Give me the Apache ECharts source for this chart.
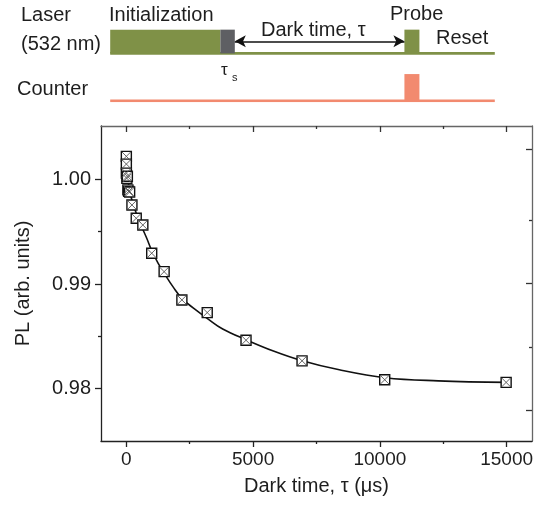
<!DOCTYPE html>
<html><head><meta charset="utf-8">
<script src="https://cdn.jsdelivr.net/npm/echarts@6/dist/echarts.min.js"></script>
<style>html,body{margin:0;padding:0;background:#fff}#c{width:540px;height:516px}</style>
</head><body><div id="c"></div>
<script>
// ---- measured data (Dark time in µs, PL in arb. units)
const darkTime = [0, 0, 0, 20, 40, 60, 90, 130, 220, 390, 650, 1000, 1490, 2190, 3190, 4720, 6930, 10190, 14980];
const plValues = [1.0022, 1.00146, 1.0006, 1.0001, 1.0003, 0.9990, 0.99885, 0.9988, 0.99755, 0.99628, 0.99564, 0.99294, 0.99118, 0.98848, 0.98727, 0.98463, 0.98266, 0.98085, 0.98060];
// fitted curve
const fitTime = [0, 100, 200, 400, 600, 800, 1000, 1250, 1500, 1850, 2200, 2700, 3200, 3800, 4700, 5800, 6900, 8400, 10200, 12300, 15000];
const fitPL   = [1.0004, 0.9994, 0.9982, 0.9967, 0.9955, 0.9944, 0.9932, 0.9920, 0.9910, 0.9897, 0.9886, 0.9876, 0.9867, 0.9857, 0.9847, 0.9836, 0.9827, 0.9818, 0.98105, 0.98075, 0.98060];
// ticks
const xMajorTicks = [0, 5000, 10000, 15000];
const xMinorTicks = [2500, 7500, 12500];
const yMajorTicks = [0.98, 0.99, 1.00];
const yMinorTicks = [0.985, 0.995];
const yRightMajorTicks = [0.97797, 0.99004, 1.00289];
const yRightMinorTicks = [0.98397, 0.99605];
// pulse-sequence schematic (time in arbitrary units 0..100, levels)
const laserBlockStart = [0, 28.65, 76.5];
const laserBlockEnd   = [28.65, 32.4, 80.4];
const laserBlockNames = ['Initialization', 'τs', 'Probe'];
const laserBase = 2, laserHigh = 3.0;
const counterStart = [76.5], counterEnd = [80.4];
const counterBase = 0, counterHigh = 1.13;
const seqEnd = 100;
const darkStart = 32.4, darkEnd = 76.5, darkLevel = 2.51;

const FONT = 'Liberation Sans, Arial, Helvetica, sans-serif';
const GREEN = '#7f9147', GRAY = '#5e5f63', CORAL = '#f28a6f', TXT = '#1e1e1e';

const chart = echarts.init(document.getElementById('c'), null, {renderer: 'canvas'});
const mainRect = {left: 101, top: 126, width: 431, height: 315, outerBoundsMode: 'none', containLabel: false};

const blockColor = {'Initialization': GREEN, 'τs': GRAY, 'Probe': GREEN};
const laserRects = laserBlockStart.map((s, i) => [s, laserBlockEnd[i], laserBase, laserHigh, laserBlockNames[i]]);
const counterRects = counterStart.map((s, i) => [s, counterEnd[i], counterBase, counterHigh, 'Counter']);

function rectRender(params, api) {
  const p0 = api.coord([api.value(0), api.value(3)]);
  const p1 = api.coord([api.value(1), api.value(2)]);
  return {type: 'rect', shape: {x: p0[0], y: p0[1], width: p1[0] - p0[0], height: p1[1] - p0[1]},
          style: {fill: api.visual('color')}};
}

const xBase = {type: 'value', min: -1000, max: 16000, gridIndex: 0, splitLine: {show: false}};
const yBase = {type: 'value', min: 0.975, max: 1.0051, gridIndex: 0, splitLine: {show: false}};
const T = 20;

const option = {
  animation: false,
  backgroundColor: '#fff',
  grid: [mainRect, Object.assign({}, mainRect),
         {left: 110.2, width: 384.6, top: 5.9, height: 95, outerBoundsMode: 'none', containLabel: false}],
  xAxis: [
    Object.assign({}, xBase, {position: 'bottom',
      axisLine: {show: true, onZero: false, lineStyle: {color: '#222', width: 1.3}},
      axisTick: {show: true, inside: false, length: 6, customValues: xMajorTicks, lineStyle: {color: '#222', width: 1.3}},
      axisLabel: {show: true, customValues: xMajorTicks, margin: 9, fontSize: 19, color: TXT, fontFamily: FONT,
                  formatter: v => String(v)},
      name: 'Dark time, τ (μs)', nameLocation: 'middle', nameGap: 35,
      nameTextStyle: {fontSize: T, color: TXT, fontFamily: FONT}}),
    Object.assign({}, xBase, {position: 'top',
      axisLine: {show: true, onZero: false, lineStyle: {color: '#666', width: 1.3}},
      axisTick: {show: true, inside: true, length: 6, customValues: xMajorTicks, lineStyle: {color: '#333', width: 1.3}},
      axisLabel: {show: false}}),
    Object.assign({}, xBase, {gridIndex: 1, position: 'bottom',
      axisLine: {show: false, onZero: false},
      axisTick: {show: true, inside: false, length: 3, customValues: xMinorTicks, lineStyle: {color: '#222', width: 1.3}},
      axisLabel: {show: false}}),
    Object.assign({}, xBase, {gridIndex: 1, position: 'top',
      axisLine: {show: false, onZero: false},
      axisTick: {show: true, inside: true, length: 3, customValues: xMinorTicks, lineStyle: {color: '#333', width: 1.3}},
      axisLabel: {show: false}}),
    {type: 'value', gridIndex: 2, min: 0, max: seqEnd, show: false}
  ],
  yAxis: [
    Object.assign({}, yBase, {position: 'left',
      axisLine: {show: true, onZero: false, lineStyle: {color: '#222', width: 1.3}},
      axisTick: {show: true, inside: false, length: 6, customValues: yMajorTicks, lineStyle: {color: '#222', width: 1.3}},
      axisLabel: {show: true, customValues: yMajorTicks, margin: 10, fontSize: 20, color: TXT, fontFamily: FONT,
                  formatter: v => v.toFixed(2)},
      name: 'PL (arb. units)', nameLocation: 'middle', nameGap: 68, nameRotate: 90,
      nameTextStyle: {fontSize: T, color: TXT, fontFamily: FONT}}),
    Object.assign({}, yBase, {position: 'right',
      axisLine: {show: true, onZero: false, lineStyle: {color: '#666', width: 1.3}},
      axisTick: {show: true, inside: true, length: 6, customValues: yRightMajorTicks, lineStyle: {color: '#333', width: 1.3}},
      axisLabel: {show: false}}),
    Object.assign({}, yBase, {gridIndex: 1, position: 'left',
      axisLine: {show: false, onZero: false},
      axisTick: {show: true, inside: false, length: 3, customValues: yMinorTicks, lineStyle: {color: '#222', width: 1.3}},
      axisLabel: {show: false}}),
    Object.assign({}, yBase, {gridIndex: 1, position: 'right',
      axisLine: {show: false, onZero: false},
      axisTick: {show: true, inside: true, length: 3, customValues: yRightMinorTicks, lineStyle: {color: '#333', width: 1.3}},
      axisLabel: {show: false}}),
    {type: 'value', gridIndex: 2, min: 0, max: 4, show: false}
  ],
  series: [
    {type: 'line', xAxisIndex: 0, yAxisIndex: 0, data: fitTime.map((t, i) => [t, fitPL[i]]),
     smooth: 0.4, showSymbol: false, symbol: 'none', lineStyle: {color: '#111', width: 1.6}, z: 2},
    {type: 'scatter', xAxisIndex: 0, yAxisIndex: 0, data: darkTime.map((t, i) => [t, plValues[i]]),
     symbol: 'rect', symbolSize: 10, itemStyle: {color: '#fff', borderColor: '#111', borderWidth: 1.4, opacity: 1}, z: 3},
    {type: 'scatter', xAxisIndex: 0, yAxisIndex: 0, data: darkTime.map((t, i) => [t, plValues[i]]),
     symbol: 'path://M0,0L10,10M10,0L0,10', symbolSize: 9, silent: true,
     itemStyle: {color: 'none', borderColor: '#555', borderWidth: 0.9, opacity: 1}, z: 4},
    // schematic baselines
    {type: 'line', xAxisIndex: 4, yAxisIndex: 4, data: [[0, laserBase], [seqEnd, laserBase]],
     symbol: 'none', lineStyle: {color: GREEN, width: 2.8}, z: 1,
     markLine: {silent: true, symbol: ['arrow', 'arrow'], symbolSize: [9, 11],
       label: {show: false}, lineStyle: {color: '#111', width: 1.5, type: 'solid'},
       data: [[{coord: [darkStart, darkLevel]}, {coord: [darkEnd, darkLevel]}]]}},
    {type: 'line', xAxisIndex: 4, yAxisIndex: 4, data: [[0, counterBase], [seqEnd, counterBase]],
     symbol: 'none', lineStyle: {color: CORAL, width: 2.6}, z: 1},
    {type: 'custom', xAxisIndex: 4, yAxisIndex: 4, renderItem: rectRender, z: 2,
     data: laserRects.map(r => ({value: r, itemStyle: {color: blockColor[r[4]]}}))},
    {type: 'custom', xAxisIndex: 4, yAxisIndex: 4, renderItem: rectRender, z: 2,
     data: counterRects.map(r => ({value: r, itemStyle: {color: CORAL}}))}
  ],
  graphic: [
    {type: 'text', left: 21, top: 5, style: {text: 'Laser', fill: TXT, font: '20px ' + FONT}},
    {type: 'text', left: 21, top: 34, style: {text: '(532 nm)', fill: TXT, font: '20px ' + FONT}},
    {type: 'text', left: 109, top: 5, style: {text: 'Initialization', fill: TXT, font: '20px ' + FONT}},
    {type: 'text', left: 261, top: 20, style: {text: 'Dark time, τ', fill: TXT, font: '20px ' + FONT}},
    {type: 'text', left: 390, top: 4, style: {text: 'Probe', fill: TXT, font: '20px ' + FONT}},
    {type: 'text', left: 436, top: 28, style: {text: 'Reset', fill: TXT, font: '20px ' + FONT}},
    {type: 'text', left: 221, top: 62, style: {text: 'τ', fill: TXT, font: '17px ' + FONT}},
    {type: 'text', left: 232, top: 72, style: {text: 's', fill: TXT, font: '11px ' + FONT}},
    {type: 'text', left: 17, top: 79, style: {text: 'Counter', fill: TXT, font: '20px ' + FONT}}
  ]
};
chart.setOption(option);
</script></body></html>
